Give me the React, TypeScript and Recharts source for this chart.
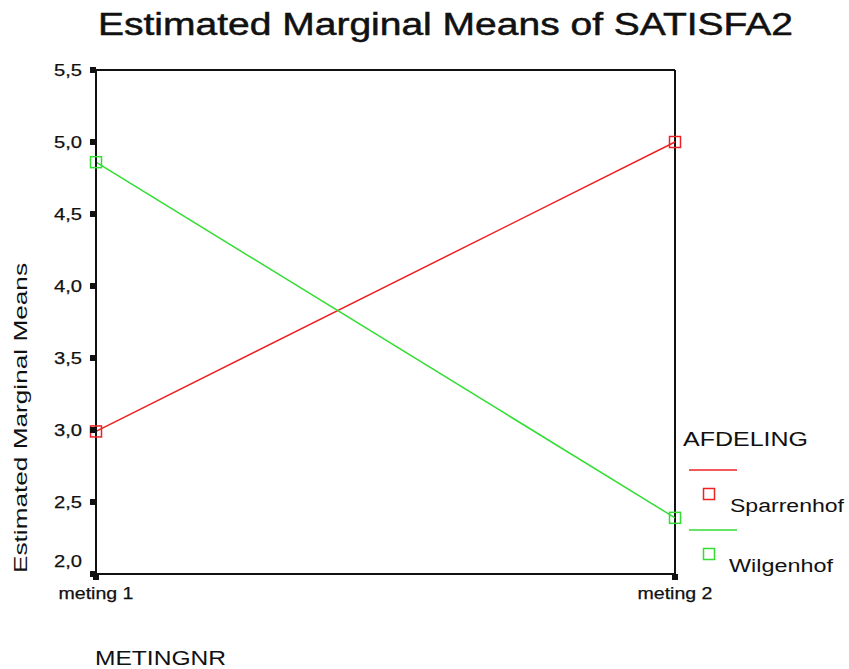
import React from "react";
import { LineChart, Line, XAxis, YAxis, ReferenceLine, Customized } from "recharts";

const categories = ["meting 1", "meting 2"];
const sparrenhof = [2.99, 5.0];
const wilgenhof = [4.86, 2.39];
const yTicks = [2.0, 2.5, 3.0, 3.5, 4.0, 4.5, 5.0, 5.5];
const seriesNames = ["Sparrenhof", "Wilgenhof"];
const seriesColors = ["#ee2222", "#33dd33"];

const data = categories.map((c, i) => ({
  name: c,
  Sparrenhof: sparrenhof[i],
  Wilgenhof: wilgenhof[i],
}));

const FONT = "'Liberation Sans', Arial, sans-serif";
const INK = "#111";

const fmt = (v: number) => v.toFixed(1).replace(".", ",");

const YTick = (props: any) => {
  const { x, y, payload } = props;
  const v = payload.value as number;
  const base = v === 2 ? y - 7 : y + 6;
  return (
    <g>
      <rect x={x - 6} y={y - 3} width={6} height={6} fill={INK} />
      <text x={x - 14} y={base} textAnchor="end" fontFamily={FONT} fontSize={16} fill={INK}
        stroke={INK} strokeWidth={0.25}
        textLength={28} lengthAdjust="spacingAndGlyphs">{fmt(v)}</text>
    </g>
  );
};

const XTick = (props: any) => {
  const { x, y, payload } = props;
  return (
    <g>
      <rect x={x - 3} y={y} width={6} height={6} fill={INK} />
      <text x={x} y={y + 25} textAnchor="middle" fontFamily={FONT} fontSize={16} fill={INK}
        stroke={INK} strokeWidth={0.25}
        textLength={75} lengthAdjust="spacingAndGlyphs">{payload.value}</text>
    </g>
  );
};

const SquareDot = (color: string) => (props: any) => {
  const { cx, cy, index } = props;
  if (cx == null || cy == null) return <g key={index} />;
  return (
    <rect key={index} x={cx - 5.5} y={cy - 5.5} width={11} height={11} fill="none" stroke={color} strokeWidth={1.5} />
  );
};

const Decorations = () => {
  const legendY = [470, 530];
  const labelX = [730, 729];
  const labelLen = [114, 104];
  return (
    <g>
      <text x={98} y={35} fontFamily={FONT} fontSize={31} fill={INK} stroke={INK} strokeWidth={0.5}
        textLength={695} lengthAdjust="spacingAndGlyphs">Estimated Marginal Means of SATISFA2</text>
      <text x={27} y={418} transform="rotate(-90, 27, 418)" textAnchor="middle" fontFamily={FONT}
        fontSize={19} fill={INK} textLength={310} lengthAdjust="spacingAndGlyphs">Estimated Marginal Means</text>
      <text x={95} y={665} fontFamily={FONT} fontSize={21} fill={INK}
        textLength={131} lengthAdjust="spacingAndGlyphs">METINGNR</text>
      <text x={683} y={446} fontFamily={FONT} fontSize={21} fill={INK}
        textLength={125} lengthAdjust="spacingAndGlyphs">AFDELING</text>
      {seriesNames.map((n, i) => (
        <g key={n}>
          <line x1={689} x2={737} y1={legendY[i]} y2={legendY[i]} stroke={seriesColors[i]} strokeWidth={1.5} />
          <rect x={703.5} y={legendY[i] + 18.5} width={11} height={11} fill="none" stroke={seriesColors[i]} strokeWidth={1.5} />
          <text x={labelX[i]} y={legendY[i] + 42} fontFamily={FONT} fontSize={18} fill={INK}
            textLength={labelLen[i]} lengthAdjust="spacingAndGlyphs">{n}</text>
        </g>
      ))}
    </g>
  );
};

export default function App() {
  return (
    <div style={{ position: "absolute", left: 0, top: 0, width: 849, height: 669, background: "#fff" }}>
      <LineChart width={849} height={669} data={data} margin={{ top: 70, right: 174, left: 0, bottom: 65 }}>
        <XAxis dataKey="name" height={30} tickSize={0} tickMargin={0} tickLine={false}
          axisLine={{ stroke: INK, strokeWidth: 2 }} tick={<XTick />} interval={0} />
        <YAxis width={96} domain={[2, 5.5]} ticks={yTicks} type="number" tickSize={0} tickMargin={0}
          tickLine={false} axisLine={{ stroke: INK, strokeWidth: 2 }} tick={<YTick />} interval={0} />
        <ReferenceLine y={5.5} stroke={INK} strokeWidth={2} />
        <ReferenceLine x="meting 2" stroke={INK} strokeWidth={2} />
        <Line dataKey="Sparrenhof" stroke={seriesColors[0]} strokeWidth={1.5} isAnimationActive={false}
          dot={SquareDot(seriesColors[0])} activeDot={false} />
        <Line dataKey="Wilgenhof" stroke={seriesColors[1]} strokeWidth={1.5} isAnimationActive={false}
          dot={SquareDot(seriesColors[1])} activeDot={false} />
        <Customized component={Decorations} />
      </LineChart>
    </div>
  );
}
